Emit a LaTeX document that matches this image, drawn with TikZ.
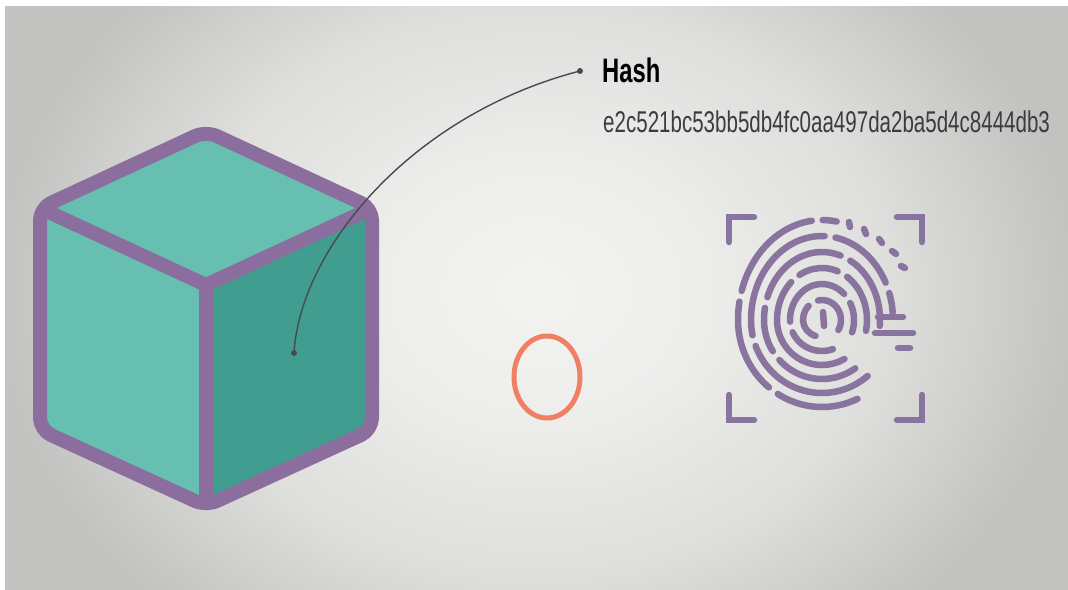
\documentclass[tikz,border=0pt]{standalone}
\usepackage{fontspec}
\setmainfont{Liberation Sans}
\newfontfamily\labelfont[FakeStretch=0.70]{Liberation Sans}
\newfontfamily\digestfont[FakeStretch=0.685]{Liberation Sans}
\usetikzlibrary{calc}

\definecolor{cubeline}{RGB}{139,110,158}
\definecolor{cubelight}{RGB}{103,191,178}
\definecolor{cubedark}{RGB}{65,157,143}
\definecolor{printline}{RGB}{136,116,158}
\definecolor{ringline}{RGB}{240,128,100}
\definecolor{leader}{RGB}{70,75,75}
\definecolor{digest}{RGB}{60,60,60}
\definecolor{bgin}{RGB}{243,243,242}
\definecolor{bgnear}{RGB}{237,237,236}
\definecolor{bgmid}{RGB}{222,222,220}
\definecolor{bgout}{RGB}{194,194,192}

\pgfdeclareradialshading{glow}{\pgfpoint{0bp}{0bp}}{%
  color(0bp)=(bgin); color(15bp)=(bgnear); color(33bp)=(bgmid);
  color(50bp)=(bgout)}

\tikzset{
  cubeedge/.style={draw=cubeline, line width=14pt, line join=round, line cap=round},
  ridge/.style={draw=printline, line width=6.5pt, line cap=round},
  dot/.style={circle, fill=leader, inner sep=0pt, minimum size=6pt},
  leaderline/.style={draw=leader, line width=1.4pt},
}

\begin{document}
\begin{tikzpicture}[x=1pt, y=-1pt]
  \useasboundingbox (0,0) rectangle (1068,589);
  \fill[white] (0,0) rectangle (1068,589);
  \begin{scope}
    \clip (5,6) rectangle (1075,600);
    \fill[bgout] (5,6) rectangle (1075,600);
    \node[inner sep=0pt] (glow) at (536,292) {\scalebox{10.76}[8.6]{\pgfuseshading{glow}}};
  \end{scope}

  % cube
  \coordinate (top) at (206,131);
  \coordinate (ul) at (40,208);
  \coordinate (ll) at (40,430);
  \coordinate (bot) at (206,506);
  \coordinate (lr) at (372,430);
  \coordinate (ur) at (372,208);
  \coordinate (mid) at (206,285);
  \begin{scope}
    \clip[rounded corners=12pt] (top) -- (ul) -- (ll) -- (bot) -- (lr) -- (ur) -- cycle;
    \fill[cubelight] (top) -- (ul) -- (ll) -- (bot) -- (mid) -- (ur) -- cycle;
    \fill[cubedark] (mid) -- (bot) -- (lr) -- (ur) -- cycle;
  \end{scope}
  \draw[cubeedge, rounded corners=12pt] (top) -- (ul) -- (ll) -- (bot) -- (lr) -- (ur) -- cycle;
  \draw[cubeedge] ($(ul)!9pt!(mid)$) -- (mid) -- ($(ur)!9pt!(mid)$);
  \draw[cubeedge] (mid) -- ($(bot)!9pt!(mid)$);

  % ring in the middle
  \draw[ringline, line width=5pt] (547,377) ellipse [x radius=33, y radius=41];

  % fingerprint frame
  \draw[ridge] (729,242) -- (729,217) -- (754,217);
  \draw[ridge] (897,217) -- (922,217) -- (922,242);
  \draw[ridge] (729,395) -- (729,420) -- (754,420);
  \draw[ridge] (897,420) -- (922,420) -- (922,395);

  % ridges: rx / ry upper / ry lower / start / end / dashes
  \coordinate (F) at (822,320);
  \draw[ridge] (823,312) -- (824,326);
  \foreach \rx/\ry/\ryb/\a/\b/\pat in {
      19/20/17/-30/250/{on 45pt off 11pt on 200pt},
      32/36/31/-20/290/{on 30pt off 11pt on 80pt off 11pt on 200pt},
      45/52/45/-12/300/{on 60pt off 11pt on 40pt off 11pt on 300pt},
      58/68/59/-5/305/{on 75pt off 11pt on 95pt off 11pt on 45pt off 11pt on 300pt},
      71/84/73/5/310/{on 20pt off 11pt on 70pt off 11pt on 140pt off 11pt on 300pt},
      84/100/87/80/295/{on 14pt off 11pt on 105pt off 11pt on 95pt off 11pt on 300pt}}
  {
    \draw[ridge, dash pattern/.expanded=\pat]
      ($(F)+({\rx*cos(\a)},{-\ry*sin(\a)})$)
      arc[start angle=-\a, end angle=-180, x radius=\rx, y radius=\ry]
      arc[start angle=-180, end angle=-\b, x radius=\rx, y radius=\ryb];
  }
  % short ticks round the top right
  \foreach \p/\q in {{(849,222)}/{(850,227)}, {(864,229)}/{(866,234)},
                     {(879,239)}/{(882,243)}, {(892,251)}/{(896,254)},
                     {(901,266)}/{(905,268)}}
    \draw[ridge] \p -- \q;
  % tails running out to the right
  \draw[ridge] (878,317) -- (903,317);
  \draw[ridge] (875,333) -- (913,333);
  \draw[ridge] (898,348) -- (910,348);

  % hash label
  \node[anchor=base west, inner sep=0pt, font=\labelfont\bfseries\fontsize{34}{34}\selectfont] (hash) at (602,82) {Hash};
  \node[anchor=base west, inner sep=0pt, text=digest, font=\digestfont\fontsize{30}{30}\selectfont] (digest) at (603,132) {e2c521bc53bb5db4fc0aa497da2ba5d4c8444db3};
  \node[dot] (pin) at (294,353) {};
  \node[dot] (tag) at (580,71) {};
  \draw[leaderline] (pin.center) .. controls (300,250) and (410,115) .. (tag.center);
\end{tikzpicture}
\end{document}
